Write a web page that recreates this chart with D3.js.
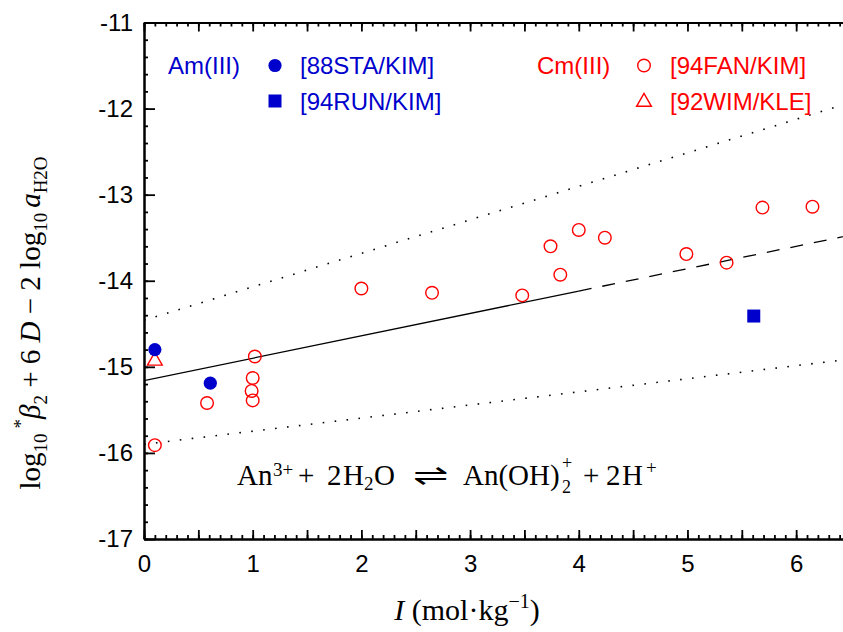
<!DOCTYPE html>
<html>
<head>
<meta charset="utf-8">
<script src="https://cdn.jsdelivr.net/npm/d3@7/dist/d3.min.js"></script>
<style>
  html, body { margin: 0; padding: 0; background: #fff; }
  svg { display: block; }
</style>
</head>
<body>
<div id="chart"></div>
<script>
// ---------------- data ----------------
const xDomain = [0, 6.5];
const yDomain = [-17, -11];
const xTickLabels = [0, 1, 2, 3, 4, 5, 6];
const yTickLabels = [-17, -16, -15, -14, -13, -12, -11];

// Am(III) [88STA/KIM] filled circles
const amStaI = [0.10, 0.61];
const amStaV = [-14.80, -15.19];
// Am(III) [94RUN/KIM] filled square
const amRunI = [5.61];
const amRunV = [-14.41];
// Cm(III) [94FAN/KIM] open circles
const cmFanI = [0.10, 0.58, 1.00, 0.99, 1.00, 1.02, 2.00, 2.65, 3.48, 3.74, 3.83, 4.00, 4.24, 4.99, 5.36, 5.69, 6.15];
const cmFanV = [-15.91, -15.42, -15.39, -15.28, -15.13, -14.88, -14.09, -14.14, -14.17, -13.60, -13.93, -13.41, -13.50, -13.69, -13.79, -13.15, -13.14];
// Cm(III) [92WIM/KLE] open triangle
const cmWimI = [0.10];
const cmWimV = [-14.93];

// SIT regression line and its uncertainty band
const fitSolidI = [0, 4.0];
const fitSolidV = [-15.16, -14.12];
const fitDashI = [4.0, 6.5];
const fitDashV = [-14.12, -13.47];
const upperI = [0, 6.5];
const upperV = [-14.46, -11.93];
const lowerI = [0, 6.5];
const lowerV = [-15.90, -14.91];

// ---------------- layout ----------------
const W = 843, H = 632;
const plot = { left: 144, right: 850.5, top: 22.5, bottom: 539 };
const BLUE = "#0000cc", RED = "#ff0000";

const svg = d3.select("#chart").append("svg")
  .attr("width", W).attr("height", H)
  .attr("viewBox", `0 0 ${W} ${H}`);

const x = d3.scaleLinear().domain(xDomain).range([plot.left, plot.right]);
const y = d3.scaleLinear().domain(yDomain).range([plot.bottom, plot.top]);

const range = (a, b, step) => d3.range(Math.round(a / step), Math.round(b / step) + 1).map(k => +(k * step).toFixed(4));

const tickFont = "'Liberation Sans', Arial, Helvetica, sans-serif";
const serif = "'Liberation Serif', 'Times New Roman', Times, serif";

function styleAxis(g, showLabels) {
  g.select(".domain").attr("stroke", "#000").attr("stroke-width", 2);
  g.selectAll(".tick line").attr("stroke", "#000").attr("stroke-width", 1.8);
  g.selectAll(".tick text").attr("fill", "#000").style("font-family", tickFont).style("font-size", "24px");
  if (!showLabels) g.selectAll(".tick text").remove();
}

// bottom axis (inward ticks)
const xMinor = range(0, 6.5, 0.1);
const xMajor = range(0, 6.5, 0.5);
svg.append("g").attr("transform", `translate(0,${plot.bottom})`)
  .call(d3.axisBottom(x).tickValues(xMinor).tickSize(-4).tickSizeOuter(0).tickFormat(""))
  .call(g => styleAxis(g, false));
svg.append("g").attr("transform", `translate(0,${plot.bottom})`)
  .call(d3.axisBottom(x).tickValues(xMajor).tickSize(-9).tickSizeOuter(0).tickPadding(16)
    .tickFormat(d => xTickLabels.includes(d) ? String(d) : ""))
  .call(g => styleAxis(g, true));
// top axis
svg.append("g").attr("transform", `translate(0,${plot.top})`)
  .call(d3.axisTop(x).tickValues(xMinor).tickSize(-4).tickSizeOuter(0).tickFormat(""))
  .call(g => styleAxis(g, false));
svg.append("g").attr("transform", `translate(0,${plot.top})`)
  .call(d3.axisTop(x).tickValues(xMajor).tickSize(-9).tickSizeOuter(0).tickFormat(""))
  .call(g => styleAxis(g, false));
// left axis
svg.append("g").attr("transform", `translate(${plot.left},0)`)
  .call(d3.axisLeft(y).tickValues(range(-17, -11, 0.2)).tickSize(-4).tickSizeOuter(0).tickFormat(""))
  .call(g => styleAxis(g, false));
svg.append("g").attr("transform", `translate(${plot.left},0)`)
  .call(d3.axisLeft(y).tickValues(yTickLabels).tickSize(-11).tickSizeOuter(0).tickPadding(11)
    .tickFormat(d => String(d)))
  .call(g => styleAxis(g, true));

// ---------------- lines ----------------
const line = d3.line().x(d => x(d[0])).y(d => y(d[1]));
const pairs = (xs, ys) => xs.map((v, i) => [v, ys[i]]);
svg.append("clipPath").attr("id", "clip").append("rect")
  .attr("x", plot.left).attr("y", plot.top).attr("width", plot.right - plot.left).attr("height", plot.bottom - plot.top);
const lines = svg.append("g").attr("clip-path", "url(#clip)");
lines.append("path").attr("d", line(pairs(fitSolidI, fitSolidV)))
  .attr("fill", "none").attr("stroke", "#000").attr("stroke-width", 1.3);
lines.append("path").attr("d", line(pairs(fitDashI, fitDashV)))
  .attr("fill", "none").attr("stroke", "#000").attr("stroke-width", 1.3).attr("stroke-dasharray", "13,11");
[[upperI, upperV], [lowerI, lowerV]].forEach(([xs, ys]) => {
  lines.append("path").attr("d", line(pairs(xs, ys)))
    .attr("fill", "none").attr("stroke", "#000").attr("stroke-width", 1.6).attr("stroke-dasharray", "1.6,10.4");
});

// ---------------- markers ----------------
const marks = svg.append("g");
marks.selectAll("circle.fan").data(pairs(cmFanI, cmFanV)).join("circle").attr("class", "fan")
  .attr("cx", d => x(d[0])).attr("cy", d => y(d[1])).attr("r", 6.3)
  .attr("fill", "none").attr("stroke", RED).attr("stroke-width", 1.4);
marks.selectAll("path.wim").data(pairs(cmWimI, cmWimV)).join("path").attr("class", "wim")
  .attr("transform", d => `translate(${x(d[0])},${y(d[1])})`)
  .attr("d", d3.symbol(d3.symbolTriangle, 95))
  .attr("fill", "none").attr("stroke", RED).attr("stroke-width", 1.4);
marks.selectAll("circle.sta").data(pairs(amStaI, amStaV)).join("circle").attr("class", "sta")
  .attr("cx", d => x(d[0])).attr("cy", d => y(d[1])).attr("r", 6.6)
  .attr("fill", BLUE);
marks.selectAll("rect.run").data(pairs(amRunI, amRunV)).join("rect").attr("class", "run")
  .attr("x", d => x(d[0]) - 6.5).attr("y", d => y(d[1]) - 6.5).attr("width", 13).attr("height", 13)
  .attr("fill", BLUE);

// ---------------- legend ----------------
const leg = svg.append("g").style("font-family", tickFont).style("font-size", "24px");
leg.append("text").attr("x", 168).attr("y", 73.5).attr("fill", BLUE).text("Am(III)");
leg.append("circle").attr("cx", 275).attr("cy", 65.5).attr("r", 6.6).attr("fill", BLUE);
leg.append("text").attr("x", 300).attr("y", 73.5).attr("fill", BLUE).text("[88STA/KIM]");
leg.append("rect").attr("x", 268.5).attr("y", 94.5).attr("width", 13).attr("height", 13).attr("fill", BLUE);
leg.append("text").attr("x", 300).attr("y", 109.5).attr("fill", BLUE).text("[94RUN/KIM]");

leg.append("text").attr("x", 537).attr("y", 73.5).attr("fill", RED).text("Cm(III)");
leg.append("circle").attr("cx", 644).attr("cy", 65.5).attr("r", 6.3)
  .attr("fill", "none").attr("stroke", RED).attr("stroke-width", 1.4);
leg.append("text").attr("x", 670).attr("y", 73.5).attr("fill", RED).text("[94FAN/KIM]");
leg.append("path").attr("transform", "translate(644,102)").attr("d", d3.symbol(d3.symbolTriangle, 95))
  .attr("fill", "none").attr("stroke", RED).attr("stroke-width", 1.4);
leg.append("text").attr("x", 670).attr("y", 109.5).attr("fill", RED).text("[92WIM/KLE]");

// ---------------- equation ----------------
const eqG = svg.append("g").style("font-family", serif).attr("fill", "#000");
const eq = eqG.append("text").attr("y", 485).style("font-size", "29px");
eq.append("tspan").attr("x", 237).text("An");
eq.append("tspan").attr("x", 273).attr("y", 476).style("font-size", "19px").text("3+");
eq.append("tspan").attr("x", 298).attr("y", 485).text("+");
eq.append("tspan").attr("x", 327).text("2");
eq.append("tspan").attr("x", 343).text("H");
eq.append("tspan").attr("x", 364).attr("y", 490).style("font-size", "19px").text("2");
eq.append("tspan").attr("x", 374).attr("y", 485).text("O");
eq.append("tspan").attr("x", 463).text("An(OH)");
eq.append("tspan").attr("x", 562).attr("y", 469).style("font-size", "18px").text("+");
eq.append("tspan").attr("x", 562).attr("y", 493).style("font-size", "18px").text("2");
eq.append("tspan").attr("x", 583).attr("y", 485).text("+");
eq.append("tspan").attr("x", 606).text("2");
eq.append("tspan").attr("x", 622).text("H");
eq.append("tspan").attr("x", 646).attr("y", 474).style("font-size", "19px").text("+");
eqG.append("text").attr("x", 413).attr("y", 485).style("font-size", "29px")
  .attr("textLength", 35).attr("lengthAdjust", "spacingAndGlyphs").text("\u21CC");

// ---------------- axis titles ----------------
const xt = svg.append("text").attr("x", 467).attr("y", 620).attr("text-anchor", "middle")
  .style("font-family", serif).style("font-size", "30px").attr("fill", "#000");
xt.append("tspan").style("font-style", "italic").text("I");
xt.append("tspan").text(" (mol\u00B7kg");
xt.append("tspan").attr("dy", -12).style("font-size", "20px").text("\u22121");
xt.append("tspan").attr("dy", 12).text(")");

const yt = svg.append("text").attr("transform", "translate(40,323) rotate(-90)").attr("text-anchor", "middle")
  .style("font-family", serif).style("font-size", "29px").attr("fill", "#000");
yt.append("tspan").text("log");
yt.append("tspan").attr("dy", 7).style("font-size", "19px").text("10");
yt.append("tspan").attr("dy", -20).attr("dx", 5).style("font-size", "19px").text("*");
yt.append("tspan").attr("dy", 13).style("font-style", "italic").text("\u03B2");
yt.append("tspan").attr("dy", 7).style("font-size", "19px").text("2");
yt.append("tspan").attr("dy", -7).text(" + 6 ");
yt.append("tspan").style("font-style", "italic").text("D");
yt.append("tspan").text(" \u2212 2 log");
yt.append("tspan").attr("dy", 7).style("font-size", "19px").text("10");
yt.append("tspan").attr("dy", -7).attr("dx", 5).style("font-style", "italic").text("a");
yt.append("tspan").attr("dy", 7).style("font-size", "19px").text("H2O");
</script>
</body>
</html>
